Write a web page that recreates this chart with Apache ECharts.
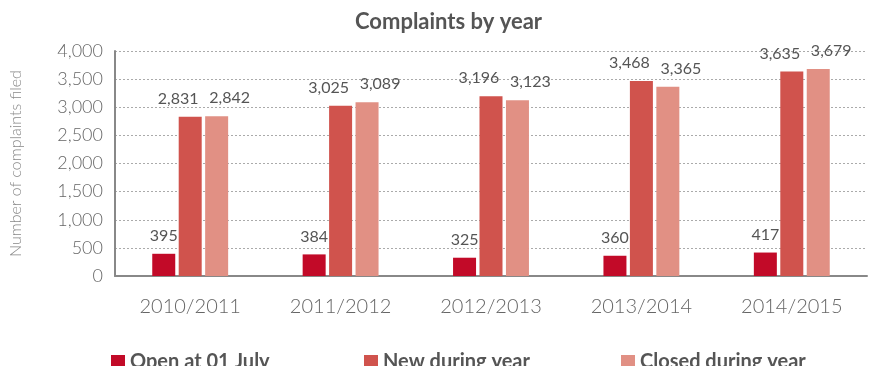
<!DOCTYPE html>
<html>
<head>
<meta charset="utf-8">
<script src="https://cdn.jsdelivr.net/npm/echarts@6/dist/echarts.min.js"></script>
<style>
  html, body { margin: 0; padding: 0; background: #fff; }
  #chart { width: 871px; height: 366px; }
</style>
</head>
<body>
<div id="chart"></div>
<script>
// Complaints handled per financial year
const years = ['2010/2011', '2011/2012', '2012/2013', '2013/2014', '2014/2015'];
const openAtJuly = [395, 384, 325, 360, 417];
const newDuringYear = [2831, 3025, 3196, 3468, 3635];
const closedDuringYear = [2842, 3089, 3123, 3365, 3679];
const yTicks = [0, 500, 1000, 1500, 2000, 2500, 3000, 3500, 4000];

const FONT = 'Lato';
const fmt = v => Number(v).toLocaleString('en-US');

const chart = echarts.init(document.getElementById('chart'));

function barSeries(name, data, color, dx) {
  return {
    name: name,
    type: 'bar',
    data: data,
    barWidth: 23,
    barGap: '15%',
    itemStyle: { color: color },
    label: {
      show: true,
      position: 'top',
      distance: 10,
      offset: [dx, 0],
      color: '#555',
      fontFamily: FONT,
      fontSize: 16,
      formatter: p => fmt(p.value)
    }
  };
}

function legendAt(name, left) {
  return {
    data: [name],
    left: left,
    top: 347,
    icon: 'rect',
    itemWidth: 14,
    itemHeight: 14,
    itemGap: 8,
    textStyle: { color: '#555', fontFamily: FONT, fontWeight: 'bold', fontSize: 20 },
    selectedMode: false
  };
}

chart.setOption({
  animation: false,
  title: {
    text: 'Complaints by year',
    left: 350,
    top: 6,
    textStyle: { color: '#555', fontFamily: FONT, fontWeight: 'bold', fontSize: 22 }
  },
  legend: [
    legendAt('Open at 01 July', 106),
    legendAt('New during year', 359),
    legendAt('Closed during year', 616)
  ],
  grid: { left: 109, right: 4, top: 51, bottom: 90, containLabel: false },
  xAxis: {
    type: 'category',
    data: years,
    axisLine: { lineStyle: { color: '#888', width: 2 } },
    axisTick: { show: false },
    axisLabel: { color: '#666', fontFamily: FONT, fontWeight: 300, fontSize: 20, margin: 21 }
  },
  yAxis: {
    type: 'value',
    min: yTicks[0],
    max: yTicks[yTicks.length - 1],
    interval: 500,
    name: 'Number of complaints filed',
    nameLocation: 'middle',
    nameGap: 91,
    nameRotate: 90,
    nameTextStyle: { color: '#888', fontFamily: FONT, fontWeight: 300, fontSize: 16 },
    axisLine: { show: true, lineStyle: { color: '#888', width: 2 } },
    axisTick: { show: false },
    axisLabel: {
      color: '#666', fontFamily: FONT, fontWeight: 300, fontSize: 18, margin: 12,
      formatter: v => fmt(v)
    },
    splitLine: { lineStyle: { color: '#aaa', type: [2, 2], width: 1 } }
  },
  series: [
    barSeries('Open at 01 July', openAtJuly, '#C20A28', 0),
    barSeries('New during year', newDuringYear, '#D0534D', -12),
    barSeries('Closed during year', closedDuringYear, '#E19084', 13)
  ]
});
</script>
</body>
</html>
